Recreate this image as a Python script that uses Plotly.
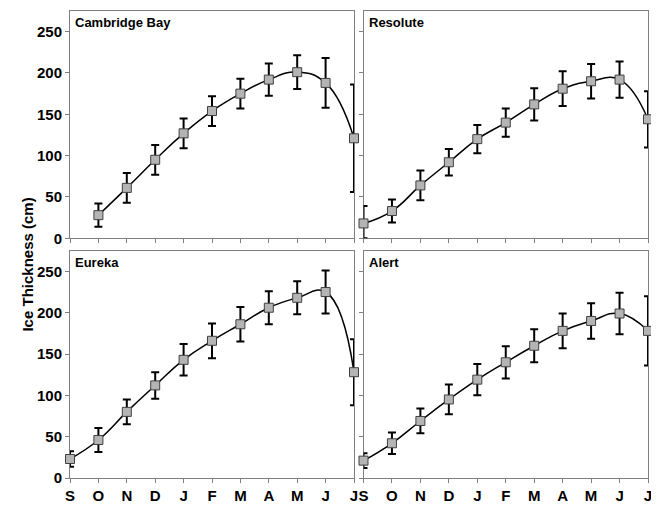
import plotly.graph_objects as go

months = ["S", "O", "N", "D", "J", "F", "M", "A", "M", "J", "J"]
month_pos = list(range(11))

# Cambridge Bay (no September value)
cb_x = [1, 2, 3, 4, 5, 6, 7, 8, 9, 10]
cb_y = [28, 61, 95, 127, 154, 175, 192, 201, 188, 121]
cb_err = [14, 18, 18, 18, 18, 18, 19.5, 20.5, 30, 65]

res_x = [0, 1, 2, 3, 4, 5, 6, 7, 8, 9, 10]
res_y = [18, 33, 64, 92, 120, 140, 162, 181, 190, 192, 144]
res_err = [21, 14, 18, 16, 17, 17, 19.5, 21, 21, 22, 34]

eur_x = [0, 1, 2, 3, 4, 5, 6, 7, 8, 9, 10]
eur_y = [23, 46, 80, 112, 143, 166, 186, 206, 218, 225, 128]
eur_err = [9.5, 14.5, 15, 16, 19, 21, 21, 20, 20, 26, 40]

alt_x = [0, 1, 2, 3, 4, 5, 6, 7, 8, 9, 10]
alt_y = [21, 42, 69, 95, 119, 140, 160, 178, 190, 199, 178]
alt_err = [9, 13, 15, 18, 19, 19.5, 20, 21, 21.5, 25, 42]

stations = ["Cambridge Bay", "Resolute", "Eureka", "Alert"]
series = [(cb_x, cb_y, cb_err), (res_x, res_y, res_err),
          (eur_x, eur_y, eur_err), (alt_x, alt_y, alt_err)]

# page body has an 8px margin; work in figure coordinates (screen - 8)
W, H = 651, 498
ml, mr, mt, mb = 62, 11, 2, 24.5
pw, ph = W - ml - mr, H - mt - mb

def px_x(p):
    return (p - ml) / pw

def px_y(p):
    return (H - mb - p) / ph

xdoms = [[px_x(62), px_x(346)], [px_x(355.5), px_x(640)]]
ydoms = [[px_y(231.5), 1.0], [0.0, px_y(244)]]

fig = go.Figure()
FONT = "Liberation Sans, Arial, sans-serif"
bold = dict(family=FONT, size=15, color="black", weight="bold")

for i, (name, (xs, ys, es)) in enumerate(zip(stations, series)):
    row, col = divmod(i, 2)
    ax = "" if i == 0 else str(i + 1)
    em = [min(e, y) for e, y in zip(es, ys)]
    fig.add_trace(go.Scatter(
        x=xs, y=ys, mode="lines+markers",
        line=dict(color="black", width=1.5, shape="spline", smoothing=1.3),
        marker=dict(symbol="square", size=9, color="#b4b4b4",
                    line=dict(color="#404040", width=1)),
        error_y=dict(type="data", array=es, arrayminus=em, symmetric=False,
                     color="black", thickness=2, width=4),
        cliponaxis=False, showlegend=False,
        xaxis="x" + ax, yaxis="y" + ax,
    ))
    common = dict(showline=True, mirror=True, linecolor="#808080", linewidth=1,
                  ticks="outside", ticklen=4, tickcolor="#808080", tickwidth=1,
                  showgrid=False, zeroline=False, layer="below traces")
    fig.layout["xaxis" + ax] = dict(
        domain=xdoms[col], anchor="y" + ax, range=[0, 10],
        tickvals=month_pos, ticktext=months,
        showticklabels=(row == 1), tickfont=bold, **common)
    fig.layout["yaxis" + ax] = dict(
        domain=ydoms[row], anchor="x" + ax, range=[0, 275],
        tickvals=[0, 50, 100, 150, 200, 250],
        showticklabels=(col == 0), tickfont=bold, **common)
    fig.add_annotation(
        text=name, x=xdoms[col][0], y=ydoms[row][1], xref="paper", yref="paper",
        xanchor="left", yanchor="top", xshift=3, yshift=-2, showarrow=False,
        font=dict(family=FONT, size=13, color="black", weight="bold"))

fig.add_annotation(
    text="Ice Thickness (cm)", x=px_x(20), y=px_y(258), xref="paper", yref="paper",
    xanchor="center", yanchor="middle", textangle=-90, showarrow=False,
    font=dict(family=FONT, size=15, color="black", weight="bold"))

fig.update_layout(width=W, height=H, margin=dict(l=ml, r=mr, t=mt, b=mb),
                  paper_bgcolor="white", plot_bgcolor="white")

fig.write_html("out.html")
